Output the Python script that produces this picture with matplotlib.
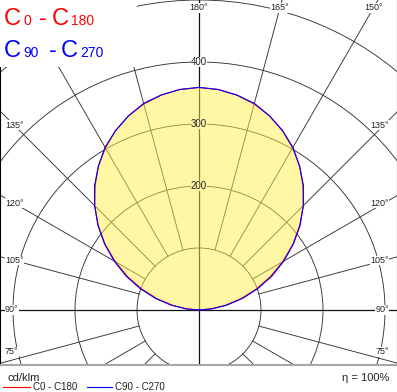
import numpy as np
import matplotlib
matplotlib.use('Agg')
import matplotlib.pyplot as plt
from matplotlib.patches import Circle, Rectangle
from matplotlib.lines import Line2D

plt.rcParams['font.family'] = ['Liberation Sans', 'DejaVu Sans']

# luminous intensity (cd/klm) vs gamma angle, 180 = straight up
angles = [180, 175, 170, 165, 160, 155, 150, 145, 140, 135,
          130, 125, 120, 115, 110, 105, 100, 95, 90]
c0_c180 = [359, 357, 352, 344, 333, 319, 302, 283, 261, 238,
           212, 185, 156, 127, 98, 70, 43, 19, 0]
c90_c270 = [359, 357, 352, 345, 333, 319, 303, 283, 262, 238,
            213, 186, 158, 130, 101, 73, 46, 21, 0]

rings = [100, 200, 300, 400, 500]
ring_labels = [200, 300, 400]
tick_angles = [75, 90, 105, 120, 135, 150, 165, 180]

W, H = 397, 392
cx, cy = 199, 310      # centre of the diagram in pixels
bottom_px = 365        # bottom of plotting box
s = 0.62               # pixels per cd/klm
legend_w, legend_h = 137, 67   # white box behind the top-left legend (px)

fig = plt.figure(figsize=(W / 100, H / 100), dpi=100)
ax = fig.add_axes([0, (H - bottom_px) / H, 1, bottom_px / H])
ax.set_xlim(-cx / s, (W - cx) / s)
ax.set_ylim(-(bottom_px - cy) / s, cy / s)
ax.set_xticks([])
ax.set_yticks([])
ax.spines['top'].set_visible(False)
ax.spines['left'].set_color('black')
ax.spines['left'].set_linewidth(0.8)
ax.spines['right'].set_color('#555555')
ax.spines['right'].set_linewidth(0.8)
ax.spines['bottom'].set_color('#a8a8a8')
ax.spines['bottom'].set_linewidth(1.5)

# grid circles
for r in rings:
    ax.add_patch(Circle((0, 0), r, fill=False, ec='#333333', lw=0.65, zorder=1))

# radial lines
for a in range(0, 360, 15):
    th = np.radians(a)
    dx, dy = np.sin(th), -np.cos(th)
    if a % 90 == 0:
        ax.plot([0, 1000 * dx], [0, 1000 * dy], color='#111111', lw=0.9, zorder=1)
    else:
        ax.plot([100 * dx, 1000 * dx], [100 * dy, 1000 * dy], color='#333333', lw=0.65, zorder=1)


def curve(vals):
    g = np.radians(angles)
    r = np.array(vals, dtype=float)
    xr, yr = r * np.sin(g), -r * np.cos(g)
    x = np.concatenate([xr[::-1], -xr[1:]])
    y = np.concatenate([yr[::-1], yr[1:]])
    return x, y


fx, fy = curve(c90_c270)
ax.fill(fx, fy, color='#fff04a', alpha=0.5, lw=0, zorder=2)
for vals, col in [(c0_c180, '#ff0000'), (c90_c270, '#0000ff')]:
    x, y = curve(vals)
    ax.plot(x, y, color=col, lw=0.8, zorder=3)

# ring labels on the vertical axis
for r in ring_labels:
    fc = 'white' if r > max(c90_c270) else '#fff7a4'
    ax.text(0, r, str(r), ha='center', va='center', fontsize=7, color='#222222',
            zorder=5, bbox=dict(fc=fc, ec='none', pad=0.3))

# angle labels at the box edge (skipped where the legend box hides them)
x_in = (cx - 14) / s
y_top = (cy - 8) / s
y_bot = -(bottom_px - cy - 13) / s
for a in tick_angles:
    th = np.radians(a)
    for side in ([1] if a == 180 else [-1, 1]):
        dx, dy = side * np.sin(th), -np.cos(th)
        t_side = x_in / abs(dx) if abs(dx) > 1e-9 else np.inf
        lab = f'{a}°'
        box = dict(fc='white', ec='none', pad=0.2)
        if dy > 0 and y_top / dy < t_side:
            x = dx * y_top / dy
            if cx + x * s < legend_w + 12:
                continue
            ax.text(x, y_top, lab, ha='center', va='center',
                    fontsize=6.5, color='#222222', zorder=5, bbox=box)
        else:
            y = max(dy * t_side, y_bot)
            if side < 0 and cy - y * s < legend_h + 6:
                continue
            if side < 0:
                ax.text(-(cx - 5) / s, y, lab, ha='left', va='center',
                        fontsize=6.5, color='#222222', zorder=5, bbox=box)
            else:
                ax.text((W - cx - 8) / s, y, lab, ha='right', va='center',
                        fontsize=6.5, color='#222222', zorder=5, bbox=box)

ax.add_patch(Rectangle((-cx / s, (cy - legend_h) / s), legend_w / s, legend_h / s,
                       fc='white', ec='none', zorder=6))


def ptxt(x, y, txt, **kw):
    fig.text(x / W, 1 - y / H, txt, **kw)


big, small = 17, 10
for x, txt, fs in [(4, 'C', big), (24, '0', small), (39, '-', big), (52, 'C', big), (71, '180', small)]:
    ptxt(x, 25, txt, fontsize=fs, color='#ff0000', va='baseline', zorder=7)
for x, txt, fs in [(4, 'C', big), (23.5, '90', small), (49, '-', big), (61, 'C', big), (80, '270', small)]:
    ptxt(x, 57, txt, fontsize=fs, color='#0000ff', va='baseline', zorder=7)

# footer
ptxt(7, 381, 'cd/klm', fontsize=8, color='#222222', va='baseline')
ptxt(389, 381, 'η = 100%', fontsize=8, color='#222222', va='baseline', ha='right')
for x1, x2, col, txt in [(3, 30, '#ff0000', 'C0 - C180'), (87, 112, '#0000ff', 'C90 - C270')]:
    fig.add_artist(Line2D([x1 / W, x2 / W], [1 - 386.5 / H] * 2, color=col, lw=0.8,
                          transform=fig.transFigure))
    ptxt(x2 + 3, 387.5, txt, fontsize=7, color='#222222', va='center')

fig.savefig('out.png', dpi=100)
